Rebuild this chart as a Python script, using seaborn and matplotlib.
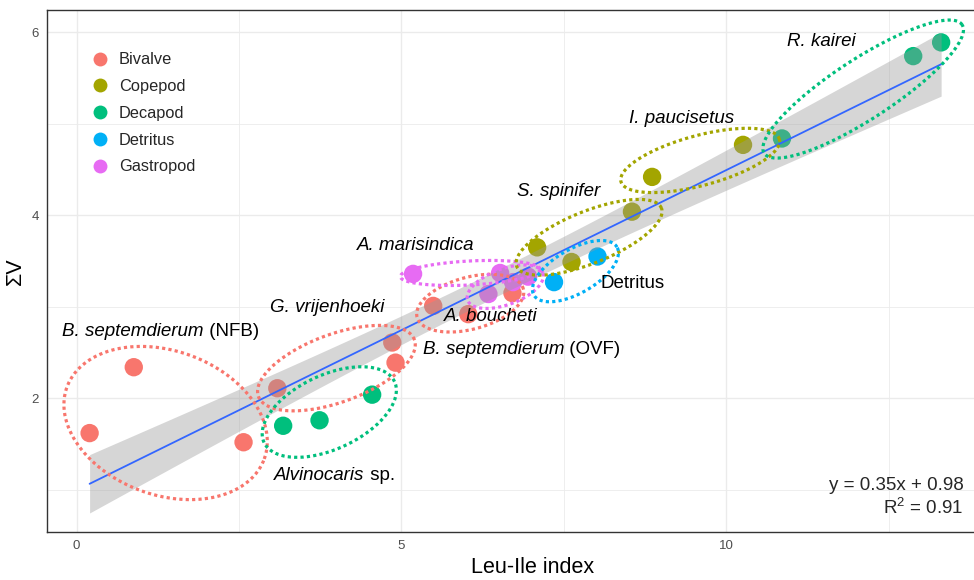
import numpy as np
import pandas as pd
import matplotlib
matplotlib.use("Agg")
import matplotlib.pyplot as plt
import seaborn as sns
from matplotlib.lines import Line2D
from matplotlib.transforms import offset_copy

# ---------------- data ----------------
groups = ["Bivalve", "Copepod", "Decapod", "Detritus", "Gastropod"]
palette = ["#F8766D", "#A3A500", "#00BF7D", "#00B0F6", "#E76BF3"]

bivalve_x = [0.20, 0.88, 2.57, 3.09, 4.86, 4.91, 5.49, 6.03, 6.71]
bivalve_y = [1.62, 2.34, 1.52, 2.11, 2.61, 2.39, 3.01, 2.92, 3.15]
copepod_x = [7.09, 7.62, 8.55, 8.86, 10.26]
copepod_y = [3.65, 3.49, 4.04, 4.42, 4.77]
decapod_x = [3.18, 3.74, 4.55, 10.86, 12.88, 13.31]
decapod_y = [1.70, 1.76, 2.04, 4.84, 5.74, 5.89]
detritus_x = [7.35, 8.02]
detritus_y = [3.27, 3.55]
gastropod_x = [5.18, 6.34, 6.52, 6.72, 6.95]
gastropod_y = [3.36, 3.14, 3.37, 3.27, 3.33]

x_ticks = [0, 5, 10]
y_ticks = [2, 4, 6]

# annotation labels: (italic part, upright part, x, y, ha)
labels = [
    ("R. kairei", "", 11.46, 5.92, "center"),
    ("I. paucisetus", "", 9.32, 5.08, "center"),
    ("S. spinifer", "", 7.42, 4.29, "center"),
    ("A. marisindica", "", 5.22, 3.70, "center"),
    ("", "Detritus", 8.06, 3.28, "left"),
    ("G. vrijenhoeki", "", 3.86, 3.02, "center"),
    ("A. boucheti", "", 6.37, 2.92, "center"),
    ("B. septemdierum", " (OVF)", 6.85, 2.56, "center"),
    ("B. septemdierum", " (NFB)", 1.29, 2.75, "center"),
    ("Alvinocaris", " sp.", 3.97, 1.18, "center"),
]

# ellipses: centre (data), semi-axes (px), angle (deg), group colour index
ellipses = [
    (1.37, 1.73, 105, 72, -20, 0),
    (4.00, 2.33, 83, 34, 20, 0),
    (3.89, 1.85, 72, 37, 25, 2),
    (6.06, 3.04, 55, 26, 15, 0),
    (6.06, 3.37, 70, 12, 3, 4),
    (6.60, 3.22, 40, 18, 20, 4),
    (7.89, 3.76, 78, 26, 22, 1),
    (9.60, 4.60, 82, 25, 15, 1),
    (7.68, 3.39, 48, 22, 30, 3),
    (12.11, 5.38, 118, 30, 33, 2),
]

xs = [bivalve_x, copepod_x, decapod_x, detritus_x, gastropod_x]
ys = [bivalve_y, copepod_y, decapod_y, detritus_y, gastropod_y]
df = pd.DataFrame({
    "x": np.concatenate(xs),
    "y": np.concatenate(ys),
    "group": np.concatenate([[g] * len(v) for g, v in zip(groups, xs)]),
})

# ---------------- style ----------------
sns.set_style("white")
plt.rcParams["font.family"] = ["Liberation Sans", "DejaVu Sans"]
plt.rcParams["mathtext.fontset"] = "custom"
plt.rcParams["mathtext.rm"] = "Liberation Sans"
plt.rcParams["mathtext.it"] = "Liberation Sans:italic"
plt.rcParams["mathtext.bf"] = "Liberation Sans:bold"

fig = plt.figure(figsize=(9.74, 5.8), dpi=100)
W, H = 974, 580
ax = fig.add_axes([47 / W, 1 - 532 / H, (984 - 47) / W, (532 - 10) / H])

ax.set_xlim(-0.456, 13.97)
ax.set_ylim(0.539, 6.244)

sns.scatterplot(data=df, x="x", y="y", hue="group", hue_order=groups,
                palette=palette, s=175, linewidth=0, alpha=1, legend=False,
                ax=ax, zorder=2)

# regression line (seaborn) + analytic 95% confidence band (as ggplot's lm smooth)
sns.regplot(data=df, x="x", y="y", scatter=False, ci=None,
            color="#3366FF", line_kws=dict(lw=1.3, zorder=3), ax=ax)

xv = df["x"].to_numpy()
yv = df["y"].to_numpy()
n = len(xv)
b1, b0 = np.polyfit(xv, yv, 1)
resid = yv - (b0 + b1 * xv)
s = np.sqrt(np.sum(resid ** 2) / (n - 2))
try:
    from scipy import stats
    tq = stats.t.ppf(0.975, n - 2)
except Exception:
    tq = 2.06
xg = np.linspace(xv.min(), xv.max(), 200)
se = s * np.sqrt(1 / n + (xg - xv.mean()) ** 2 / np.sum((xv - xv.mean()) ** 2))
yg = b0 + b1 * xg
ax.fill_between(xg, yg - tq * se, yg + tq * se, color="#999999", alpha=0.4,
                linewidth=0, zorder=2.5)

# grid
ax.set_xticks(x_ticks)
ax.set_yticks(y_ticks)
ax.set_xticks([2.5, 7.5, 12.5], minor=True)
ax.set_yticks([1, 3, 5], minor=True)
ax.grid(True, which="major", color="#EBEBEB", lw=1.0)
ax.grid(True, which="minor", color="#EBEBEB", lw=0.6)
ax.set_axisbelow(True)
ax.tick_params(which="minor", length=0)
ax.tick_params(which="major", length=3, width=0.8, color="#333333",
               labelsize=9.5, labelcolor="#4D4D4D", pad=3)
for sp in ax.spines.values():
    sp.set_color("#333333")
    sp.set_linewidth(1.0)

ax.set_xlabel("Leu-Ile index", fontsize=15.5, color="black")
ax.set_ylabel("ΣV", fontsize=15.5, color="black", labelpad=4)
ax.xaxis.set_label_coords((533 - 47) / (984 - 47), -0.048)

# ellipses (dotted)
def draw_ellipse(cx, cy, a_px, b_px, ang, color):
    t = np.linspace(0, 2 * np.pi, 500)
    c = ax.transData.transform((cx, cy))
    th = np.deg2rad(ang)
    dx = a_px * np.cos(t) * np.cos(th) - b_px * np.sin(t) * np.sin(th)
    dy = a_px * np.cos(t) * np.sin(th) + b_px * np.sin(t) * np.cos(th)
    pts = ax.transData.inverted().transform(np.column_stack([c[0] + dx, c[1] + dy]))
    ax.plot(pts[:, 0], pts[:, 1], color=color, lw=2.3, ls=(0, (1, 1)),
            dash_capstyle="butt", zorder=4)

for cx, cy, a, b, ang, gi in ellipses:
    draw_ellipse(cx, cy, a, b, ang, palette[gi])

# labels: italic part followed by upright part on one baseline
renderer = fig.canvas.get_renderer()
FS = 13.5
for ital, upr, tx, ty, ha in labels:
    parts = [(p, st) for p, st in ((ital, "italic"), (upr, "normal")) if p]
    arts = []
    for p, st in parts:
        arts.append(ax.text(tx, ty, p, ha="left", va="baseline", fontsize=FS,
                            fontstyle=st, color="black", zorder=5))
    widths = [a.get_window_extent(renderer).width for a in arts]
    total = sum(widths)
    # vertical: put centre of cap height at ty
    cap = FS * 0.72 * 100 / 72
    start = -total / 2 if ha == "center" else 0.0
    off = start
    for a, w in zip(arts, widths):
        a.set_transform(offset_copy(ax.transData, fig, x=off, y=-cap / 2, units="dots"))
        off += w

ax.text(13.66, 1.05, "y = 0.35x + 0.98", ha="right", va="center", fontsize=13.5)
ax.text(13.66, 0.80, "R$^2$ = 0.91", ha="right", va="center", fontsize=13.5)

handles = [Line2D([0], [0], marker="o", ls="none", markersize=10,
                  markerfacecolor=c, markeredgewidth=0) for c in palette]
ax.legend(handles, groups, loc="upper left", bbox_to_anchor=(0.048, 0.919),
          frameon=False, fontsize=11.8, handlelength=1.0, handletextpad=0.65,
          labelspacing=0.72, borderpad=0, borderaxespad=0)

fig.savefig("out.png", dpi=100)
